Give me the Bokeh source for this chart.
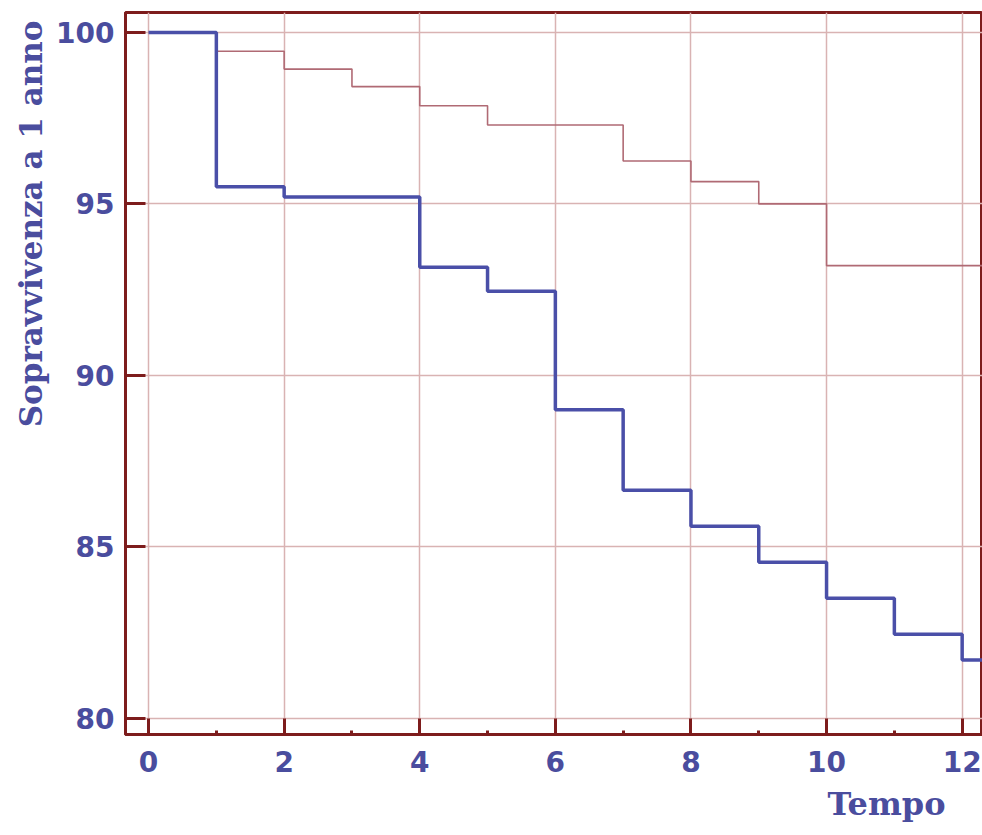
from bokeh.plotting import figure
from bokeh.models import Range1d, FixedTicker, Title
from bokeh.embed import file_html
from bokeh.resources import INLINE

# Data
tempo = [0, 1, 2, 3, 4, 5, 6, 7, 8, 9, 10, 11, 12, 13]
blu = [100, 95.5, 95.2, 95.2, 93.15, 92.45, 89.0, 86.65, 85.6, 84.55, 83.5, 82.45, 81.7, 81.7]
rosso = [100, 99.45, 98.93, 98.42, 97.86, 97.3, 97.3, 96.25, 95.65, 95.0, 93.2, 93.2, 93.2, 93.2]
x_major = [0, 2, 4, 6, 8, 10, 12]
x_minor = [1, 3, 5, 7, 9, 11]
y_major = [80, 85, 90, 95, 100]

FRAME = "#7d1c1c"
GRID = "#d9b3b3"
TXT = "#4a4d9e"

p = figure(width=982, height=830, output_backend="svg", toolbar_location=None,
           x_range=Range1d(-0.34, 12.3), y_range=Range1d(79.53, 100.58),
           min_border_left=125, min_border_right=0, min_border_top=12, min_border_bottom=95)
p.background_fill_color = "white"
p.border_fill_color = "white"
p.outline_line_color = FRAME
p.outline_line_width = 3

p.xaxis.ticker = FixedTicker(ticks=x_major, minor_ticks=x_minor)
p.yaxis.ticker = FixedTicker(ticks=y_major, minor_ticks=[])

for ax in (p.xaxis[0], p.yaxis[0]):
    ax.axis_line_color = FRAME
    ax.axis_line_width = 3
    ax.major_tick_line_color = FRAME
    ax.major_tick_line_width = 3
    ax.minor_tick_line_color = FRAME
    ax.minor_tick_line_width = 3
    ax.major_tick_out = 0
    ax.minor_tick_out = 0
    ax.major_label_text_color = TXT
    ax.major_label_text_font = "DejaVu Sans"
    ax.major_label_text_font_style = "bold"
    ax.major_label_text_font_size = "28px"

p.xaxis.major_tick_in = 16
p.xaxis.minor_tick_in = 4
p.xaxis.major_label_standoff = 16
p.yaxis.major_tick_in = 20
p.yaxis.minor_tick_in = 0
p.yaxis.major_label_standoff = 11

p.xgrid.ticker = FixedTicker(ticks=x_major)
p.ygrid.ticker = FixedTicker(ticks=y_major)
p.grid.grid_line_color = GRID
p.grid.grid_line_width = 1.5

p.step(tempo, rosso, mode="after", line_color="#b06a74", line_width=1.6)
p.step(tempo, blu, mode="after", line_color="#4a4fa8", line_width=3.5)

ylab = Title(text="Sopravvivenza a 1 anno", align="right", text_color=TXT,
             text_font="DejaVu Serif", text_font_style="bold", text_font_size="31px",
             offset=8, standoff=9)
p.add_layout(ylab, "left")
xlab = Title(text="Tempo", align="right", text_color=TXT,
             text_font="DejaVu Serif", text_font_style="bold", text_font_size="32px",
             offset=37, standoff=16)
p.add_layout(xlab, "below")

open("out.html", "w").write(file_html(p, INLINE))
